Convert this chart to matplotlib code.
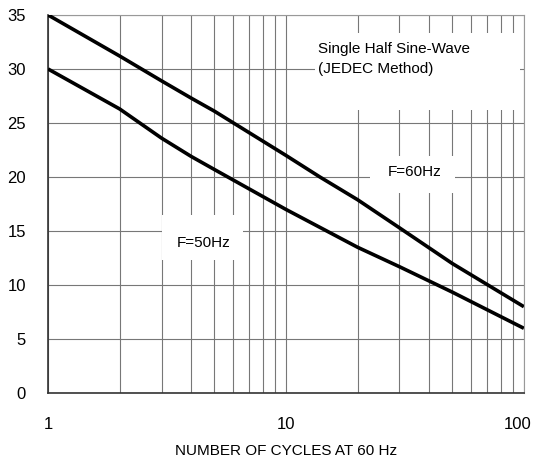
import matplotlib.pyplot as plt
from matplotlib.patches import Rectangle
from matplotlib.transforms import ScaledTranslation
from matplotlib.ticker import FixedLocator, NullFormatter

plt.rcParams["font.family"] = ["Liberation Sans", "DejaVu Sans"]

# values
cycles_60 = [1, 2, 3, 4, 5, 10, 13.9, 20, 30, 50, 100]
current_60 = [35, 31.2, 28.9, 27.3, 26.1, 22.0, 20, 17.9, 15.3, 12.0, 8]

cycles_50 = [1, 2, 3, 4, 5, 10, 20, 30, 50, 100]
current_50 = [30, 26.3, 23.6, 21.9, 20.7, 17.0, 13.5, 11.7, 9.35, 6]

yticks = [0, 5, 10, 15, 20, 25, 30, 35]
xticks = [1, 10, 100]

fig = plt.figure(figsize=(5.34, 4.68), dpi=100)
ax = fig.add_axes([0.09, 0.16, 0.891, 0.808])

ax.plot(cycles_60, current_60, color="black", lw=2.6, zorder=3, solid_capstyle="butt")
ax.plot(cycles_50, current_50, color="black", lw=2.6, zorder=3, solid_capstyle="butt")

ax.set_xscale("log")
ax.set_xlim(1, 100)
ax.set_ylim(0, 35)
ax.set_yticks(yticks)
ax.set_xticks(xticks)
ax.set_xticklabels([str(t) for t in xticks])
ax.xaxis.set_minor_locator(FixedLocator([m * d for d in (1, 10) for m in range(2, 10)]))
ax.xaxis.set_minor_formatter(NullFormatter())

ax.grid(True, which="both", axis="x", color="#777777", lw=0.8)
ax.grid(True, which="major", axis="y", color="#777777", lw=0.8)
ax.tick_params(which="both", length=0, labelsize=12)
ax.tick_params(axis="y", pad=16)
ax.tick_params(axis="x", pad=17)

# pull the "100" label a little inside the figure
last = ax.get_xticklabels()[-1]
last.set_transform(last.get_transform() + ScaledTranslation(-6 / 100, 0, fig.dpi_scale_trans))

for side in ["top", "right"]:
    ax.spines[side].set_color("#999999")
for side in ["left", "bottom"]:
    ax.spines[side].set_color("#333333")
    ax.spines[side].set_linewidth(1.2)

ax.set_xlabel("NUMBER OF CYCLES AT 60 Hz", fontsize=11, labelpad=9)

# white blank-out boxes behind the labels (axes fraction)
for x0, y0, w, h in [(0.561, 0.749, 0.431, 0.203),
                     (0.676, 0.53, 0.179, 0.098),
                     (0.24, 0.352, 0.17, 0.12)]:
    ax.add_patch(Rectangle((x0, y0), w, h, transform=ax.transAxes,
                           facecolor="white", edgecolor="none", zorder=2.5))

ax.text(0.567, 0.884, "Single Half Sine-Wave\n(JEDEC Method)", transform=ax.transAxes,
        fontsize=11, ha="left", va="center", linespacing=1.6, zorder=4)
ax.text(0.771, 0.585, "F=60Hz", transform=ax.transAxes, fontsize=11,
        ha="center", va="center", zorder=4)
ax.text(0.326, 0.397, "F=50Hz", transform=ax.transAxes, fontsize=11,
        ha="center", va="center", zorder=4)

fig.savefig("out.png", dpi=100)
